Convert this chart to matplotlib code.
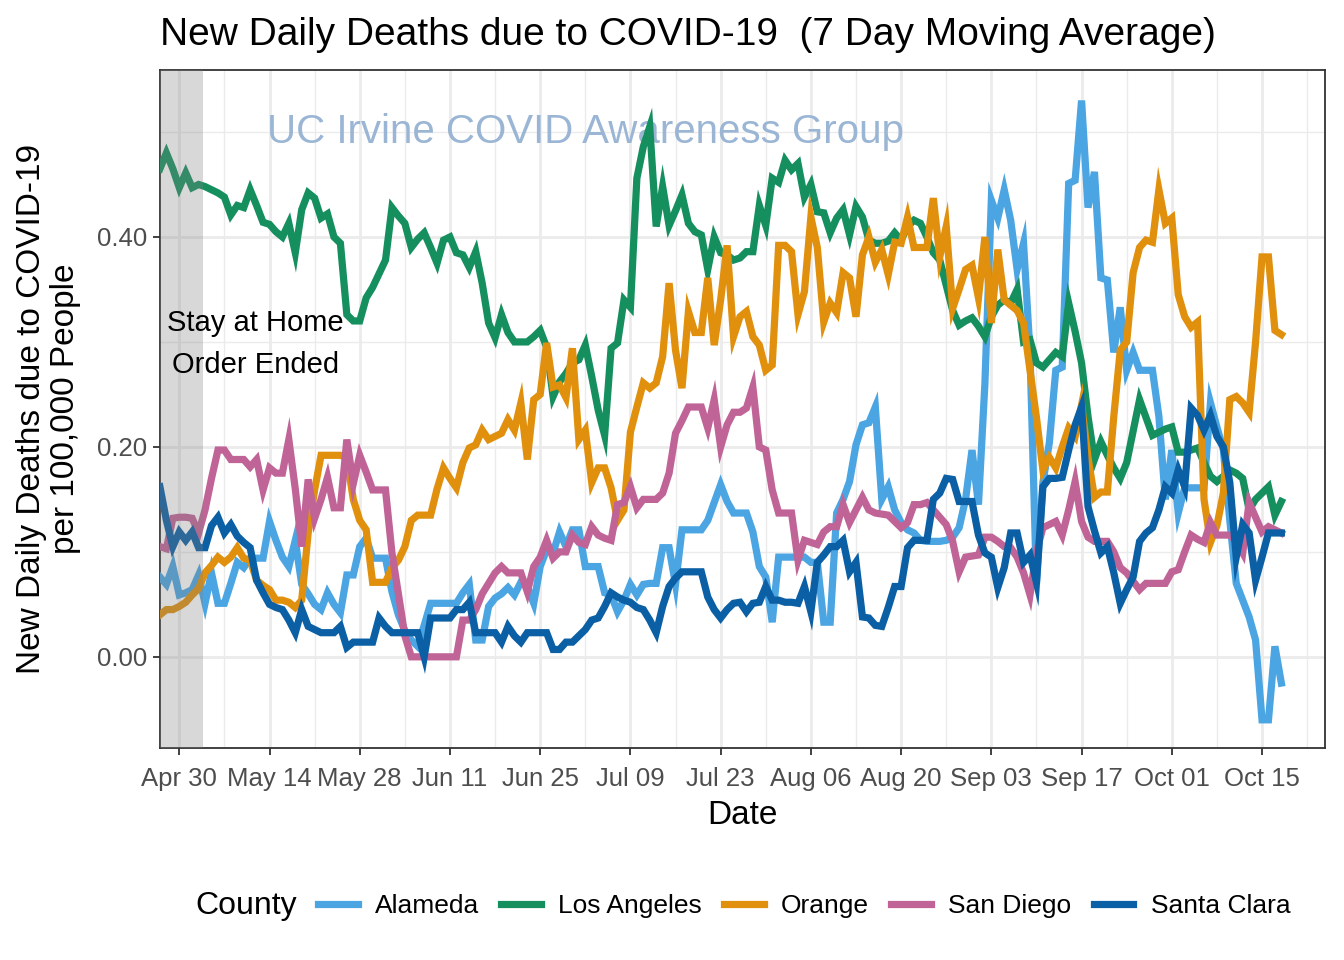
import matplotlib
matplotlib.use("Agg")
import matplotlib.pyplot as plt
import matplotlib.dates as mdates
from matplotlib.lines import Line2D
import pandas as pds

counties = ["Alameda", "Los Angeles", "Orange", "San Diego", "Santa Clara"]
colors = ["#4aa5e2", "#168f5f", "#e0900c", "#c06497", "#0b5fa4"]
startDate = "2020-04-27"

alameda = [0.076, 0.069, 0.086, 0.059, 0.061, 0.064, 0.078, 0.051, 0.08, 0.051,
           0.051, 0.07, 0.09, 0.085, 0.094, 0.094, 0.094, 0.129, 0.111, 0.095,
           0.086, 0.111, 0.069, 0.06, 0.05, 0.045, 0.061, 0.05, 0.042, 0.078,
           0.078, 0.105, 0.113, 0.094, 0.094, 0.094, 0.062, 0.04, 0.025, 0.016,
           0.01, 0.03, 0.051, 0.051, 0.051, 0.051, 0.051, 0.061, 0.069, 0.016,
           0.016, 0.048, 0.056, 0.06, 0.066, 0.059, 0.071, 0.067, 0.051, 0.086,
           0.102, 0.099, 0.119, 0.105, 0.121, 0.121, 0.086, 0.086, 0.086, 0.061,
           0.059, 0.043, 0.054, 0.069, 0.059, 0.069, 0.07, 0.07, 0.104, 0.104,
           0.069, 0.121, 0.121, 0.121, 0.121, 0.13, 0.147, 0.164, 0.148, 0.137,
           0.137, 0.137, 0.119, 0.086, 0.076, 0.033, 0.095, 0.095, 0.095, 0.095,
           0.095, 0.09, 0.09, 0.033, 0.033, 0.137, 0.15, 0.167, 0.202, 0.221,
           0.223, 0.238, 0.15, 0.162, 0.14, 0.128, 0.121, 0.118, 0.111, 0.11,
           0.11, 0.11, 0.111, 0.114, 0.123, 0.15, 0.197, 0.145, 0.26, 0.435,
           0.418, 0.445, 0.416, 0.369, 0.394, 0.29, 0.069, 0.166, 0.204, 0.273,
           0.276, 0.451, 0.454, 0.53, 0.428, 0.462, 0.361, 0.359, 0.29, 0.333,
           0.273, 0.29, 0.273, 0.273, 0.273, 0.229, 0.15, 0.197, 0.137, 0.161,
           0.161, 0.161, 0.161, 0.242, 0.219, 0.197, 0.13, 0.07, 0.054, 0.038,
           0.016, -0.06, -0.06, 0.01, -0.025]

losAngeles = [0.465, 0.48, 0.465, 0.447, 0.461, 0.447, 0.45, 0.448, 0.445, 0.442,
              0.438, 0.421, 0.43, 0.428, 0.445, 0.43, 0.414, 0.412, 0.405, 0.40,
              0.413, 0.385, 0.426, 0.442, 0.437, 0.418, 0.422, 0.40, 0.394, 0.326,
              0.32, 0.32, 0.342, 0.352, 0.365, 0.378, 0.428, 0.42, 0.413, 0.39,
              0.398, 0.404, 0.39, 0.375, 0.397, 0.40, 0.385, 0.383, 0.371, 0.386,
              0.356, 0.318, 0.304, 0.326, 0.309, 0.30, 0.30, 0.30, 0.305, 0.311,
              0.295, 0.248, 0.262, 0.27, 0.28, 0.283, 0.297, 0.267, 0.235, 0.211,
              0.294, 0.299, 0.34, 0.333, 0.456, 0.486, 0.505, 0.41, 0.448, 0.411,
              0.425, 0.44, 0.413, 0.405, 0.402, 0.369, 0.40, 0.385, 0.383, 0.378,
              0.38, 0.386, 0.386, 0.43, 0.411, 0.456, 0.452, 0.473, 0.464, 0.47,
              0.438, 0.45, 0.424, 0.423, 0.404, 0.418, 0.426, 0.402, 0.429, 0.419,
              0.397, 0.394, 0.394, 0.396, 0.404, 0.397, 0.41, 0.416, 0.413, 0.40,
              0.385, 0.378, 0.354, 0.33, 0.316, 0.32, 0.323, 0.315, 0.305, 0.324,
              0.335, 0.34, 0.337, 0.35, 0.30, 0.302, 0.28, 0.276, 0.283, 0.29,
              0.286, 0.337, 0.31, 0.28, 0.229, 0.188, 0.205, 0.192, 0.18, 0.17,
              0.185, 0.215, 0.245, 0.228, 0.211, 0.214, 0.217, 0.219, 0.195, 0.195,
              0.197, 0.199, 0.185, 0.172, 0.167, 0.172, 0.178, 0.175, 0.17, 0.14,
              0.15, 0.156, 0.162, 0.135, 0.148]

orange = [0.04, 0.045, 0.045, 0.048, 0.052, 0.059, 0.065, 0.08, 0.087, 0.095,
          0.09, 0.095, 0.104, 0.094, 0.092, 0.073, 0.068, 0.064, 0.054, 0.054,
          0.052, 0.047, 0.054, 0.118, 0.159, 0.192, 0.192, 0.192, 0.192, 0.19,
          0.15, 0.13, 0.121, 0.071, 0.071, 0.071, 0.085, 0.092, 0.105, 0.13,
          0.135, 0.135, 0.135, 0.16, 0.18, 0.17, 0.161, 0.185, 0.199, 0.202,
          0.216, 0.207, 0.21, 0.213, 0.226, 0.216, 0.242, 0.188, 0.245, 0.25,
          0.299, 0.257, 0.259, 0.247, 0.294, 0.207, 0.216, 0.166, 0.18, 0.18,
          0.161, 0.13, 0.14, 0.214, 0.238, 0.261, 0.256, 0.261, 0.286, 0.356,
          0.292, 0.256, 0.329, 0.309, 0.309, 0.361, 0.297, 0.34, 0.392, 0.305,
          0.324, 0.329, 0.305, 0.297, 0.273, 0.278, 0.392, 0.392, 0.386, 0.326,
          0.348, 0.419, 0.39, 0.319, 0.337, 0.328, 0.366, 0.361, 0.324, 0.383,
          0.40, 0.376, 0.388, 0.364, 0.395, 0.394, 0.419, 0.39, 0.39, 0.39,
          0.437, 0.381, 0.41, 0.332, 0.35, 0.369, 0.373, 0.342, 0.40, 0.318,
          0.388, 0.34, 0.335, 0.33, 0.318, 0.273, 0.228, 0.178, 0.19, 0.18,
          0.20, 0.218, 0.21, 0.24, 0.19, 0.152, 0.157, 0.157, 0.229, 0.292,
          0.30, 0.366, 0.39, 0.397, 0.395, 0.445, 0.413, 0.418, 0.345, 0.324,
          0.314, 0.319, 0.15, 0.109, 0.125, 0.156, 0.245, 0.248, 0.242, 0.233,
          0.30, 0.381, 0.381, 0.311, 0.307]

sanDiego = [0.105, 0.103, 0.132, 0.133, 0.133, 0.132, 0.118, 0.14, 0.17, 0.197,
            0.197, 0.188, 0.188, 0.188, 0.181, 0.188, 0.159, 0.18, 0.175, 0.175,
            0.207, 0.16, 0.105, 0.169, 0.132, 0.15, 0.171, 0.142, 0.142, 0.207,
            0.165, 0.192, 0.176, 0.159, 0.159, 0.159, 0.099, 0.06, 0.02, 0.0,
            0.0, 0.0, 0.0, 0.0, 0.0, 0.0, 0.0, 0.035, 0.035, 0.045,
            0.06, 0.07, 0.08, 0.086, 0.08, 0.08, 0.08, 0.062, 0.086, 0.095,
            0.111, 0.094, 0.1, 0.1, 0.116, 0.109, 0.107, 0.124, 0.116, 0.113,
            0.111, 0.145, 0.147, 0.162, 0.142, 0.15, 0.15, 0.15, 0.156, 0.175,
            0.213, 0.225, 0.238, 0.238, 0.238, 0.218, 0.245, 0.20, 0.221, 0.233,
            0.233, 0.237, 0.257, 0.20, 0.197, 0.159, 0.137, 0.137, 0.137, 0.092,
            0.111, 0.109, 0.107, 0.119, 0.124, 0.124, 0.145, 0.128, 0.14, 0.152,
            0.14, 0.137, 0.136, 0.135, 0.129, 0.123, 0.128, 0.145, 0.145, 0.147,
            0.14, 0.133, 0.126, 0.11, 0.081, 0.095, 0.096, 0.097, 0.114, 0.114,
            0.11, 0.105, 0.104, 0.095, 0.08, 0.059, 0.1, 0.123, 0.126, 0.129,
            0.116, 0.14, 0.167, 0.129, 0.114, 0.11, 0.11, 0.11, 0.1, 0.085,
            0.08, 0.072, 0.064, 0.07, 0.07, 0.07, 0.07, 0.081, 0.083, 0.10,
            0.116, 0.112, 0.109, 0.128, 0.116, 0.116, 0.116, 0.11, 0.099, 0.147,
            0.133, 0.119, 0.124, 0.121, 0.118]

santaClara = [0.162, 0.13, 0.105, 0.119, 0.111, 0.119, 0.104, 0.104, 0.125, 0.133,
              0.118, 0.126, 0.115, 0.109, 0.104, 0.073, 0.061, 0.05, 0.047, 0.045,
              0.035, 0.023, 0.045, 0.029, 0.026, 0.023, 0.023, 0.023, 0.029, 0.009,
              0.014, 0.014, 0.014, 0.014, 0.037, 0.029, 0.023, 0.023, 0.023, 0.023,
              0.023, 0.0, 0.037, 0.037, 0.037, 0.037, 0.045, 0.045, 0.052, 0.023,
              0.023, 0.023, 0.023, 0.014, 0.029, 0.02, 0.014, 0.023, 0.023, 0.023,
              0.023, 0.007, 0.007, 0.014, 0.014, 0.02, 0.026, 0.035, 0.037, 0.048,
              0.061, 0.057, 0.054, 0.052, 0.047, 0.045, 0.035, 0.023, 0.048, 0.067,
              0.075, 0.081, 0.081, 0.081, 0.081, 0.057, 0.045, 0.037, 0.045, 0.051,
              0.052, 0.043, 0.051, 0.052, 0.067, 0.054, 0.054, 0.052, 0.052, 0.051,
              0.067, 0.043, 0.09, 0.097, 0.105, 0.105, 0.111, 0.081, 0.09, 0.038,
              0.037, 0.03, 0.029, 0.047, 0.067, 0.067, 0.104, 0.111, 0.111, 0.111,
              0.15, 0.156, 0.17, 0.169, 0.148, 0.148, 0.148, 0.116, 0.099, 0.095,
              0.066, 0.085, 0.118, 0.118, 0.09, 0.097, 0.071, 0.162, 0.17, 0.17,
              0.171, 0.197, 0.221, 0.238, 0.143, 0.12, 0.099, 0.105, 0.08, 0.051,
              0.064, 0.076, 0.11, 0.118, 0.123, 0.14, 0.162, 0.156, 0.178, 0.162,
              0.237, 0.23, 0.216, 0.23, 0.21, 0.2, 0.166, 0.095, 0.126, 0.118,
              0.073, 0.095, 0.118, 0.118, 0.118]

plt.rcParams['font.family'] = ['Liberation Sans', 'DejaVu Sans']

dates = pds.date_range(startDate, periods=len(alameda), freq="D")
series = [alameda, losAngeles, orange, sanDiego, santaClara]

fig = plt.figure(figsize=(13.44, 9.6), dpi=100)
ax = fig.add_axes([0.119, 0.221, 0.867, 0.706])

for values, color in zip(series, colors):
    ax.plot(dates, values, color=color, linewidth=5.2, solid_joinstyle='miter', zorder=3)

# shaded stay at home window, drawn over the lines like in the original
start = pds.Timestamp(startDate)
ax.axvspan(start - pds.Timedelta(days=5), start + pds.Timedelta(days=6.7),
           color='#7f7f7f', alpha=0.3, lw=0, zorder=4)

ax.text(start + pds.Timedelta(days=14.8), 0.298, "Stay at Home\nOrder Ended",
        ha='center', va='center', fontsize=21, linespacing=1.62, zorder=5)
ax.text(start + pds.Timedelta(days=66), 0.500, "UC Irvine COVID Awareness Group",
        ha='center', va='center', fontsize=29, color='#9bb6d5', zorder=2)

ax.set_xlim(start, start + pds.Timedelta(days=180.8))
ax.set_ylim(-0.0867, 0.559)

majorTicks = pds.date_range("2020-04-30", "2020-10-20", freq="14D")
minorTicks = pds.date_range("2020-05-07", "2020-10-31", freq="14D")
ax.set_xticks(majorTicks)
ax.set_xticks(minorTicks, minor=True)
ax.xaxis.set_major_formatter(mdates.DateFormatter("%b %d"))
ax.set_yticks([0.0, 0.2, 0.4])
ax.set_yticks([0.1, 0.3, 0.5], minor=True)
ax.set_yticklabels(["0.00", "0.20", "0.40"])

ax.grid(which='major', color='#ebebeb', linewidth=2.0, zorder=0)
ax.grid(which='minor', color='#ebebeb', linewidth=1.0, zorder=0)
ax.set_axisbelow(True)
for spine in ax.spines.values():
    spine.set_color('#333333')
    spine.set_linewidth(1.3)

ax.tick_params(which='major', labelsize=18.5, labelcolor='#4d4d4d', color='#333333',
               length=5, width=1.3, pad=4)
ax.tick_params(axis='x', which='major', pad=9)
ax.tick_params(which='minor', length=0)

ax.set_xlabel("Date", fontsize=24, labelpad=6)
ax.set_ylabel("New Daily Deaths due to COVID-19\nper 100,000 People", fontsize=24,
              labelpad=12, linespacing=1.1)
ax.set_title("New Daily Deaths due to COVID-19  (7 Day Moving Average)", fontsize=28,
             loc='left', pad=18)

handles = [Line2D([0], [0], color=c, linewidth=5.2) for c in colors]
fig.text(0.145, 0.056, "County", fontsize=23, va='center', ha='left')
fig.legend(handles, counties, loc='center left', bbox_to_anchor=(318 / 1344, 0.056),
           ncol=5, frameon=False, fontsize=19, handlelength=1.5, handletextpad=0.65,
           columnspacing=0.85, borderpad=0, borderaxespad=0)

fig.savefig("out.png", dpi=100)
